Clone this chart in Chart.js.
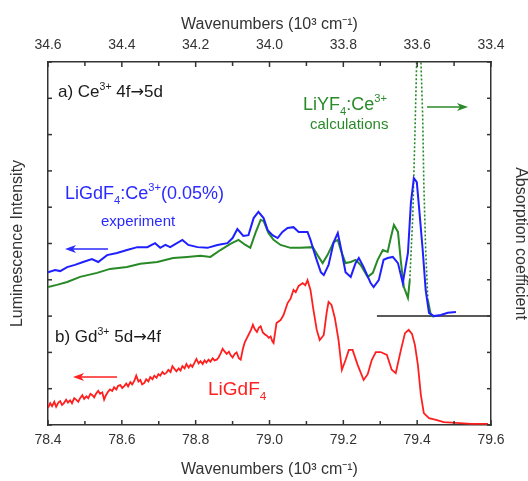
<!DOCTYPE html>
<html><head><meta charset="utf-8">
<script src="https://cdn.jsdelivr.net/npm/chart.js@4.4.1/dist/chart.umd.min.js"></script>
<style>html,body{margin:0;padding:0;background:#fff}canvas{display:block}</style>
</head><body>
<canvas id="c" width="528" height="481"></canvas>
<script>
// tick labels
const bottomTicks = [78.4, 78.6, 78.8, 79.0, 79.2, 79.4, 79.6];
const topTicks = [34.6, 34.4, 34.2, 34.0, 33.8, 33.6, 33.4];
const yTicks = [0,1,2,3,4,5,6,7,8,9,10];

// b) LiGdF4 Gd3+ 5d->4f (bottom axis, 10^3 cm^-1)
const redX = [
  78.400,78.406,78.411,78.417,78.422,78.428,78.433,78.438,78.443,78.449,
  78.454,78.460,78.465,78.471,78.476,78.482,78.487,78.493,78.498,78.504,
  78.509,78.515,78.520,78.525,78.530,78.536,78.541,78.547,78.552,78.557,
  78.563,78.568,78.574,78.579,78.585,78.590,78.596,78.601,78.607,78.612,
  78.617,78.623,78.628,78.634,78.639,78.645,78.650,78.655,78.661,78.666,
  78.672,78.677,78.683,78.688,78.694,78.699,78.704,78.710,78.715,78.721,
  78.726,78.732,78.737,78.743,78.748,78.754,78.759,78.764,78.770,78.775,
  78.781,78.786,78.791,78.797,78.802,78.808,78.813,78.819,78.824,78.829,
  78.835,78.840,78.846,78.851,78.857,78.862,78.868,78.873,78.879,78.884,
  78.890,78.895,78.900,78.906,78.911,78.917,78.922,78.928,78.933,78.939,
  78.944,78.950,78.955,78.960,78.966,78.971,78.976,78.982,78.987,78.993,
  78.998,79.003,79.008,79.011,79.019,79.030,79.038,79.049,79.057,79.065,
  79.071,79.079,79.090,79.097,79.103,79.111,79.119,79.128,79.136,79.147,
  79.155,79.160,79.168,79.177,79.187,79.196,79.206,79.215,79.225,79.239,
  79.255,79.266,79.277,79.288,79.301,79.318,79.331,79.342,79.356,79.367,
  79.377,79.386,79.394,79.402,79.410,79.418,79.432,79.451,79.472,79.505,
  79.546,79.592];
const redY = [
  0.47,0.60,0.52,0.64,0.50,0.62,0.66,0.55,0.60,0.70,
  0.62,0.68,0.60,0.74,0.70,0.64,0.74,0.82,0.72,0.79,
  0.74,0.86,0.82,0.76,0.86,0.94,0.86,0.90,0.70,0.82,
  0.92,0.98,0.94,1.04,0.98,1.08,1.10,1.02,1.08,1.14,
  1.06,1.18,1.12,1.22,1.36,1.20,1.24,1.12,1.16,1.26,
  1.20,1.32,1.26,1.36,1.30,1.40,1.36,1.46,1.40,1.44,
  1.52,1.46,1.62,1.54,1.48,1.56,1.50,1.62,1.56,1.68,
  1.58,1.66,1.60,1.72,1.82,1.70,1.76,1.68,1.78,1.72,
  1.80,1.74,1.84,1.78,1.80,1.86,1.98,2.10,2.02,1.96,
  2.02,1.92,1.86,1.96,2.00,1.84,1.80,2.10,2.28,2.40,
  2.50,2.62,2.76,2.64,2.56,2.68,2.72,2.55,2.50,2.46,
  2.40,2.44,2.30,2.26,2.81,2.89,3.03,3.36,3.48,3.72,
  3.66,3.83,3.91,3.85,3.99,3.72,3.17,2.62,2.34,2.48,
  3.11,3.39,3.31,2.95,2.34,1.52,1.79,2.07,2.07,1.65,
  1.24,1.40,1.79,2.01,2.01,1.93,1.52,1.43,2.07,2.53,
  2.62,2.51,2.20,1.65,0.83,0.33,0.19,0.14,0.08,0.06,
  0.03,0.03];

// a) LiGdF4:Ce3+(0.05%) experiment (top axis)
const blueX = [34.600,34.581,34.567,34.548,34.527,34.505,34.481,34.464,34.440,34.413,34.386,34.358,34.331,34.310,34.296,34.282,34.269,34.236,34.220,34.195,34.168,34.141,34.114,34.100,34.087,34.071,34.057,34.043,34.030,34.016,34.005,33.992,33.978,33.965,33.951,33.935,33.921,33.897,33.889,33.875,33.861,33.853,33.840,33.826,33.815,33.807,33.794,33.780,33.767,33.758,33.745,33.726,33.718,33.704,33.691,33.680,33.666,33.652,33.639,33.625,33.617,33.609,33.601,33.595,33.585,33.577,33.568,33.555,33.536,33.517,33.495];
const blueY = [4.21,4.27,4.24,4.35,4.41,4.49,4.57,4.49,4.68,4.74,4.82,4.90,4.90,5.01,4.88,4.96,4.90,5.10,4.96,4.90,4.88,4.96,5.01,5.15,5.40,5.21,5.23,5.70,5.87,5.70,5.37,5.23,5.15,5.32,5.43,5.45,5.32,5.32,5.10,4.63,4.21,4.13,4.41,5.04,5.29,4.90,4.21,4.08,4.46,4.60,4.35,3.91,3.80,3.99,4.55,4.60,4.63,4.46,3.91,4.74,6.12,6.80,6.69,6.01,4.82,3.72,3.09,3.00,3.03,3.09,3.11];

// LiYF4:Ce3+ calculations (top axis, right axis)
const greenX = [34.600,34.576,34.548,34.513,34.467,34.432,34.386,34.350,34.304,34.261,34.223,34.187,34.160,34.133,34.106,34.084,34.065,34.052,34.038,34.024,34.016,34.003,33.989,33.970,33.943,33.916,33.883,33.870,33.856,33.843,33.826,33.815,33.807,33.794,33.780,33.767,33.753,33.734,33.720,33.707,33.693,33.680,33.671,33.663,33.652,33.644,33.636,33.625,33.620,33.612,33.606,33.600,33.596,33.591,33.585,33.582,33.577,33.571,33.563,33.555];
const greenY = [3.80,3.86,3.94,4.08,4.19,4.30,4.35,4.44,4.49,4.60,4.63,4.66,4.63,4.82,4.99,5.10,4.96,4.88,5.29,5.65,5.62,5.29,5.10,4.96,4.88,4.88,4.90,4.68,4.46,4.68,5.04,5.10,4.82,4.46,4.49,4.55,4.41,4.08,4.19,4.55,4.82,4.77,5.18,5.51,5.32,4.49,3.80,3.50,3.99,5.73,8.04,10.6,12.0,10.4,8.48,6.67,4.82,3.44,3.03,2.98];

// zero line of the absorption curve
const baseX = [33.709, 33.4];
const baseY = [3.0, 3.0];

const FONT = '"Liberation Sans", Arial, sans-serif';
const ARROWFONT = '"DejaVu Sans", sans-serif';
const pts = (xs, ys) => xs.slice(0, Math.min(xs.length, ys.length)).map((x, i) => ({x, y: ys[i]}));

function rich(ctx, parts, x, y, size, color) {
  ctx.fillStyle = color; ctx.textBaseline = 'alphabetic'; ctx.textAlign = 'left';
  let cx = x;
  for (const p of parts) {
    const s = p.s ? size * 0.62 : (p.a ? size * 0.95 : size);
    const dy = p.s === 1 ? -size * 0.42 : (p.s === -1 ? size * 0.25 : 0);
    ctx.font = s + 'px ' + (p.a ? ARROWFONT : FONT);
    ctx.fillText(p.t, cx, y + dy);
    cx += ctx.measureText(p.t).width;
  }
}
function arrow(ctx, x1, y, x2, color) {
  ctx.strokeStyle = color; ctx.fillStyle = color; ctx.lineWidth = 1.5;
  const dir = Math.sign(x2 - x1);
  ctx.beginPath(); ctx.moveTo(x1, y); ctx.lineTo(x2 - dir * 6, y); ctx.stroke();
  ctx.beginPath(); ctx.moveTo(x2, y); ctx.lineTo(x2 - dir * 11, y - 4); ctx.lineTo(x2 - dir * 8, y); ctx.lineTo(x2 - dir * 11, y + 4); ctx.closePath(); ctx.fill();
}

const decor = {
  id: 'decor',
  afterDraw(chart) {
    const {ctx, chartArea: a, scales} = chart;
    ctx.save();
    ctx.strokeStyle = '#333'; ctx.lineWidth = 1.5;
    const line = (x1, y1, x2, y2) => { ctx.beginPath(); ctx.moveTo(x1, y1); ctx.lineTo(x2, y2); ctx.stroke(); };
    for (let i = 0; i < bottomTicks.length; i++) {
      const px = scales.x.getPixelForValue(bottomTicks[i]);
      line(px, a.bottom, px, a.bottom - 5);
      if (i < bottomTicks.length - 1) { const m = scales.x.getPixelForValue((bottomTicks[i] + bottomTicks[i + 1]) / 2); line(m, a.bottom, m, a.bottom - 4); }
    }
    for (let i = 0; i < topTicks.length; i++) {
      const px = scales.x2.getPixelForValue(topTicks[i]);
      line(px, a.top, px, a.top + 5);
      if (i < topTicks.length - 1) { const m = scales.x2.getPixelForValue((topTicks[i] + topTicks[i + 1]) / 2); line(m, a.top, m, a.top + 4); }
    }
    for (const v of yTicks) {
      const py = scales.y.getPixelForValue(v); line(a.left, py, a.left + 4, py);
      const py2 = scales.y2.getPixelForValue(v); line(a.right, py2, a.right - 4, py2);
    }
    // labels
    rich(ctx, [{t: 'a) Ce'}, {t: '3+', s: 1}, {t: ' 4f'}, {t: '\u2192', a: 1}, {t: '5d'}], a.left + 10, 97, 17, '#1a1a1a');
    rich(ctx, [{t: 'b) Gd'}, {t: '3+', s: 1}, {t: ' 5d'}, {t: '\u2192', a: 1}, {t: '4f'}], a.left + 7, 342, 17, '#1a1a1a');
    rich(ctx, [{t: 'LiYF'}, {t: '4', s: -1}, {t: ':Ce'}, {t: '3+', s: 1}], 303, 110, 18, '#2a8a2a');
    rich(ctx, [{t: 'calculations'}], 310, 129, 15, '#2a8a2a');
    rich(ctx, [{t: 'LiGdF'}, {t: '4', s: -1}, {t: ':Ce'}, {t: '3+', s: 1}, {t: '(0.05%)'}], 65, 199, 18, '#2a2aff');
    rich(ctx, [{t: 'experiment'}], 101, 226, 15, '#2a2aff');
    rich(ctx, [{t: 'LiGdF'}, {t: '4', s: -1}], 208, 395, 19, '#ff2020');
    arrow(ctx, 427, 107, 468, '#2a8a2a');
    arrow(ctx, 108, 249, 65, '#2a2aff');
    arrow(ctx, 117, 377, 73, '#ff2020');
    ctx.restore();
  }
};

const tickFont = {size: 14, family: FONT};
const titleFont = {size: 16, family: FONT, lineHeight: 1};

new Chart(document.getElementById('c'), {
  type: 'line',
  data: {
    datasets: [
      {label: 'LiGdF4:Ce3+(0.05%) experiment', data: pts(blueX, blueY), xAxisID: 'x2', yAxisID: 'y', borderColor: '#1f1fff', borderWidth: 2, pointRadius: 0, tension: 0, order: 0},
      {label: 'LiYF4:Ce3+ calculations', data: pts(greenX, greenY), xAxisID: 'x2', yAxisID: 'y2', borderColor: '#278a27', borderWidth: 2, pointRadius: 0, tension: 0, order: 1,
        segment: {borderDash: c => Math.abs(c.p1.y - c.p0.y) > 40 ? [2, 2] : undefined, borderWidth: c => Math.abs(c.p1.y - c.p0.y) > 40 ? 1.6 : 2}},
      {label: 'LiGdF4', data: pts(redX, redY), xAxisID: 'x', yAxisID: 'y', borderColor: '#ff1f1f', borderWidth: 1.8, pointRadius: 0, tension: 0, order: 2},
      {label: 'baseline', data: pts(baseX, baseY), xAxisID: 'x2', yAxisID: 'y2', borderColor: '#222', borderWidth: 1.5, pointRadius: 0, order: 3}
    ]
  },
  options: {
    responsive: false, animation: false,
    layout: {padding: 0},
    plugins: {legend: {display: false}, tooltip: {enabled: false}},
    scales: {
      x: {type: 'linear', position: 'bottom', min: 78.4, max: 79.6,
        afterBuildTicks: s => { s.ticks = bottomTicks.map(v => ({value: v})); },
        afterFit: s => { s.height = 56; },
        ticks: {callback: v => Number(v).toFixed(1), color: '#333', font: tickFont, padding: 7, maxRotation: 0, autoSkip: false},
        grid: {display: false, drawTicks: false},
        border: {display: true, color: '#333', width: 1.5},
        title: {display: true, text: 'Wavenumbers (10³ cm⁻¹)', color: '#333', font: titleFont, padding: {top: 0, bottom: 3}}},
      x2: {type: 'linear', position: 'top', min: 33.4, max: 34.6, reverse: true,
        afterBuildTicks: s => { s.ticks = topTicks.map(v => ({value: v})); },
        afterFit: s => { s.height = 62; },
        ticks: {callback: v => Number(v).toFixed(1), color: '#333', font: tickFont, padding: 8, maxRotation: 0, autoSkip: false},
        grid: {display: false, drawTicks: false},
        border: {display: true, color: '#333', width: 1.5},
        title: {display: true, text: 'Wavenumbers (10³ cm⁻¹)', color: '#333', font: titleFont, padding: {top: 17, bottom: 0}}},
      y: {type: 'linear', position: 'left', min: 0, max: 10,
        afterBuildTicks: s => { s.ticks = yTicks.map(v => ({value: v})); },
        afterFit: s => { s.width = 48; },
        ticks: {display: false},
        grid: {display: false, drawTicks: false},
        border: {display: true, color: '#333', width: 1.5},
        title: {display: true, text: 'Luminescence Intensity', color: '#333', font: titleFont, padding: {top: 10, bottom: 0}}},
      y2: {type: 'linear', position: 'right', min: 0, max: 10,
        afterBuildTicks: s => { s.ticks = yTicks.map(v => ({value: v})); },
        afterFit: s => { s.width = 37; },
        ticks: {display: false},
        grid: {display: false, drawTicks: false},
        border: {display: true, color: '#333', width: 1.5},
        title: {display: true, text: 'Absorption coefficient', color: '#333', font: titleFont, padding: {top: 0, bottom: 0}}}
    }
  },
  plugins: [decor]
});
</script>
</body></html>
